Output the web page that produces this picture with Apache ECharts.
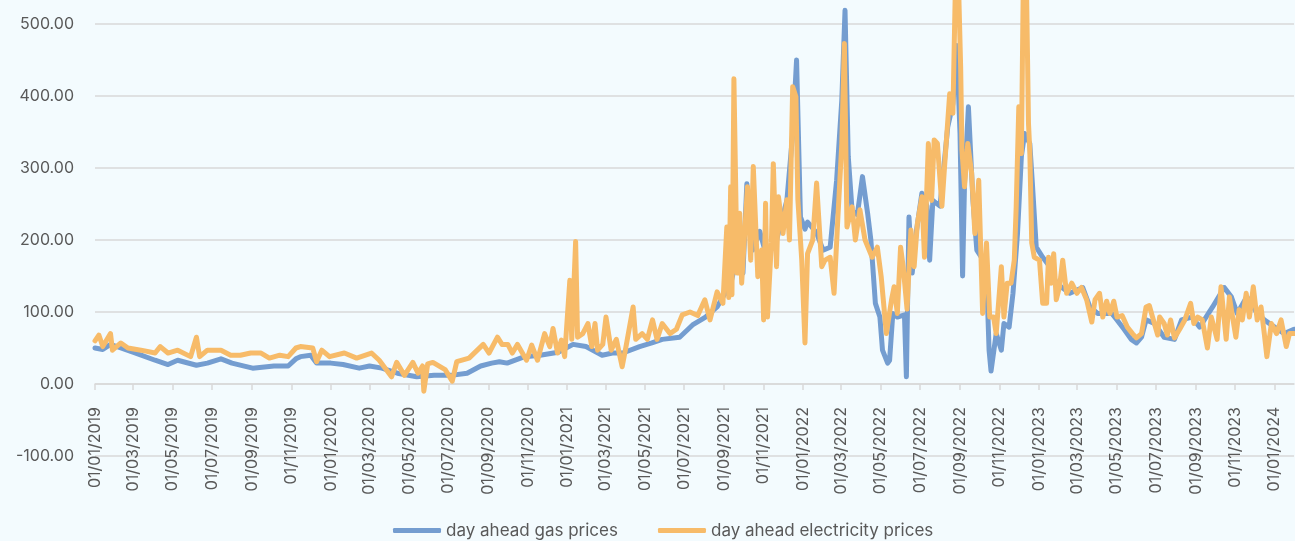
<!DOCTYPE html>
<html>
<head>
<meta charset="utf-8">
<script src="https://cdn.jsdelivr.net/npm/echarts@6/dist/echarts.min.js"></script>
<style>
html,body{margin:0;padding:0;background:#f3fbfe;}
#chart{width:1295px;height:541px;}
</style>
</head>
<body>
<div id="chart"></div>
<script>
const seriesNames = ['day ahead gas prices', 'day ahead electricity prices'];
const seriesColors = ['#749dd0', '#f7bb69'];

const tickDates = ['2019-01-01','2019-03-01','2019-05-01','2019-07-01','2019-09-01','2019-11-01',
'2020-01-01','2020-03-01','2020-05-01','2020-07-01','2020-09-01','2020-11-01',
'2021-01-01','2021-03-01','2021-05-01','2021-07-01','2021-09-01','2021-11-01',
'2022-01-01','2022-03-01','2022-05-01','2022-07-01','2022-09-01','2022-11-01',
'2023-01-01','2023-03-01','2023-05-01','2023-07-01','2023-09-01','2023-11-01','2024-01-01'];

const yTicks = [-100, 0, 100, 200, 300, 400, 500];

const gasDates = ['2019-01-01','2019-01-13','2019-01-25','2019-02-10','2019-03-05','2019-04-04','2019-04-24','2019-05-09','2019-06-07','2019-06-24','2019-07-15','2019-08-01','2019-09-02','2019-10-05','2019-10-27','2019-11-08','2019-11-15','2019-12-01','2019-12-10',
'2020-01-01','2020-01-20','2020-02-14','2020-03-01','2020-03-20','2020-04-13','2020-05-13','2020-06-09','2020-07-05','2020-07-30','2020-08-20','2020-09-06','2020-09-18','2020-09-30','2020-10-27','2020-11-20','2020-12-18',
'2021-01-10','2021-01-30','2021-02-24','2021-03-12','2021-03-28','2021-04-23','2021-05-12','2021-05-28','2021-06-24','2021-07-14','2021-07-27','2021-08-03','2021-08-21','2021-08-30','2021-09-10','2021-09-21','2021-09-30','2021-10-06','2021-10-15','2021-10-26','2021-11-06','2021-11-21','2021-12-07','2021-12-16','2021-12-22','2021-12-28',
'2022-01-04','2022-01-08','2022-01-22','2022-02-01','2022-02-12','2022-02-22','2022-03-02','2022-03-07','2022-03-12','2022-03-18','2022-03-26','2022-04-03','2022-04-11','2022-04-16','2022-04-19','2022-04-23','2022-04-30','2022-05-04','2022-05-12','2022-05-15','2022-05-20','2022-05-27','2022-06-07','2022-06-10','2022-06-14','2022-06-19','2022-06-25','2022-07-04','2022-07-12','2022-07-16','2022-07-21','2022-08-01','2022-08-05','2022-08-13','2022-08-21','2022-08-27','2022-09-01','2022-09-05','2022-09-08','2022-09-14','2022-09-21','2022-09-27','2022-10-04','2022-10-12','2022-10-16','2022-10-19','2022-10-27','2022-11-04','2022-11-08','2022-11-16','2022-11-22','2022-11-29','2022-12-05','2022-12-10','2022-12-18','2022-12-22','2022-12-28',
'2023-01-07','2023-01-18','2023-01-28','2023-02-18','2023-03-10','2023-03-21','2023-04-02','2023-04-24','2023-05-02','2023-05-13','2023-05-24','2023-06-01','2023-06-09','2023-06-16','2023-06-29','2023-07-14','2023-07-30','2023-08-10','2023-08-26','2023-09-07','2023-09-27','2023-10-15','2023-10-26','2023-11-04','2023-11-19','2023-12-05','2023-12-16',
'2024-01-01','2024-01-16','2024-01-31'];
const gasValues = [50,48,55,50,43,33,27,33,26,29,35,29,22,25,25,35,38,40,29,
29,27,22,25,22,15,10,12,12,15,25,29,31,29,38,40,44,
55,52,40,43,43,52,57,62,65,82,89,93,107,121,135,177,154,278,186,212,176,200,255,348,450,232,
215,225,210,186,190,283,394,519,316,240,235,288,237,200,163,112,93,47,29,33,98,93,96,10,232,154,209,265,247,172,255,247,283,357,389,470,348,150,279,385,255,186,176,154,47,18,70,47,84,79,126,209,316,348,334,279,190,
176,163,140,126,134,107,98,98,89,76,62,57,65,89,84,65,62,89,93,79,107,134,121,98,121,98,89,
79,70,76];

const elecDates = ['2019-01-01','2019-01-07','2019-01-13','2019-01-25','2019-01-28','2019-02-10','2019-02-21','2019-03-13','2019-04-04','2019-04-12','2019-04-24','2019-05-09','2019-05-29','2019-06-07','2019-06-12','2019-06-24','2019-07-15','2019-07-30','2019-08-14','2019-08-30','2019-09-15','2019-09-28','2019-10-14','2019-10-27','2019-11-08','2019-11-15','2019-12-04','2019-12-10','2019-12-18','2019-12-30',
'2020-01-22','2020-02-10','2020-03-04','2020-03-16','2020-04-04','2020-04-12','2020-04-24','2020-05-07','2020-05-15','2020-05-22','2020-05-24','2020-05-30','2020-06-07','2020-06-26','2020-07-07','2020-07-14','2020-08-02','2020-08-24','2020-09-02','2020-09-15','2020-09-22','2020-10-01','2020-10-08','2020-10-16','2020-10-30','2020-11-07','2020-11-16','2020-11-27','2020-12-05','2020-12-10','2020-12-17','2020-12-23','2020-12-28',
'2021-01-05','2021-01-08','2021-01-14','2021-01-17','2021-01-25','2021-02-02','2021-02-08','2021-02-13','2021-02-17','2021-02-25','2021-03-02','2021-03-10','2021-03-18','2021-03-27','2021-04-02','2021-04-13','2021-04-17','2021-04-27','2021-05-05','2021-05-13','2021-05-20','2021-05-28','2021-06-09','2021-06-19','2021-06-28','2021-07-10','2021-07-22','2021-08-02','2021-08-10','2021-08-21','2021-08-30','2021-09-05','2021-09-08','2021-09-11','2021-09-13','2021-09-16','2021-09-21','2021-09-25','2021-09-28','2021-10-07','2021-10-12','2021-10-16','2021-10-23','2021-10-29','2021-11-01','2021-11-04','2021-11-07','2021-11-13','2021-11-16','2021-11-21','2021-11-24','2021-12-01','2021-12-07','2021-12-11','2021-12-16','2021-12-21','2021-12-24','2021-12-30',
'2022-01-04','2022-01-08','2022-01-16','2022-01-22','2022-01-30','2022-02-04','2022-02-12','2022-02-18','2022-02-24','2022-03-02','2022-03-06','2022-03-10','2022-03-18','2022-03-23','2022-03-30','2022-04-07','2022-04-18','2022-04-26','2022-05-02','2022-05-10','2022-05-18','2022-05-22','2022-05-27','2022-06-01','2022-06-05','2022-06-11','2022-06-17','2022-06-22','2022-06-27','2022-07-04','2022-07-08','2022-07-14','2022-07-19','2022-07-23','2022-07-28','2022-08-04','2022-08-08','2022-08-16','2022-08-21','2022-08-25','2022-08-30','2022-09-02','2022-09-04','2022-09-08','2022-09-13','2022-09-19','2022-09-24','2022-09-30','2022-10-06','2022-10-12','2022-10-17','2022-10-23','2022-10-27','2022-11-04','2022-11-08','2022-11-13','2022-11-19','2022-11-24','2022-11-27','2022-12-01','2022-12-05','2022-12-08','2022-12-13','2022-12-16','2022-12-18','2022-12-21','2022-12-25',
'2023-01-02','2023-01-07','2023-01-13','2023-01-16','2023-01-20','2023-01-24','2023-01-28','2023-02-02','2023-02-07','2023-02-13','2023-02-21','2023-03-01','2023-03-08','2023-03-16','2023-03-24','2023-03-29','2023-04-05','2023-04-10','2023-04-16','2023-04-21','2023-04-27','2023-05-02','2023-05-10','2023-05-18','2023-05-26','2023-06-01','2023-06-09','2023-06-16','2023-06-21','2023-06-26','2023-07-04','2023-07-07','2023-07-14','2023-07-19','2023-07-24','2023-07-30','2023-08-07','2023-08-15','2023-08-24','2023-08-29','2023-09-04','2023-09-11','2023-09-19','2023-09-25','2023-09-30','2023-10-04','2023-10-10','2023-10-18','2023-10-23','2023-10-27','2023-11-02','2023-11-07','2023-11-12','2023-11-18','2023-11-23','2023-11-29','2023-12-05','2023-12-11','2023-12-16','2023-12-20','2023-12-27',
'2024-01-04','2024-01-11','2024-01-19','2024-01-24','2024-01-31'];
const elecValues = [60,68,52,70,47,57,50,47,43,52,43,47,38,65,38,47,47,40,40,43,43,36,40,38,50,52,50,31,47,38,
43,36,43,33,10,30,12,30,15,25,-10,28,30,20,4,31,36,55,43,65,55,55,43,55,33,54,33,70,52,77,43,61,38,
144,62,198,65,70,84,52,84,47,55,93,47,62,24,52,107,62,70,62,89,62,84,70,76,96,100,95,117,89,128,112,218,120,274,124,424,154,237,140,274,172,302,149,186,89,251,93,196,306,163,260,209,256,200,413,399,256,172,
57,181,200,279,163,172,176,126,232,334,473,218,246,200,242,200,176,190,149,70,117,135,98,190,163,104,214,163,223,260,176,334,255,339,334,247,301,403,376,560,545,440,325,274,334,293,209,283,98,196,93,93,70,163,93,140,140,172,247,385,320,560,545,362,325,196,176,
172,112,112,176,140,181,117,135,172,126,140,126,134,117,86,117,126,93,115,98,115,93,95,79,70,64,70,107,109,93,68,93,84,68,89,64,76,89,112,84,93,89,50,93,76,62,135,62,121,98,65,103,89,126,93,135,89,107,70,38,84,
70,89,52,70,70];

const START = Date.UTC(2019, 0, 1);
function dayIndex(s) {
  const p = s.split('-').map(Number);
  return Math.round((Date.UTC(p[0], p[1] - 1, p[2]) - START) / 86400000);
}
function pad(n) { return (n < 10 ? '0' : '') + n; }
function dayLabel(idx) {
  const d = new Date(START + Math.round(idx) * 86400000);
  return pad(d.getUTCDate()) + '/' + pad(d.getUTCMonth() + 1) + '/' + d.getUTCFullYear();
}
function zip(d, v) { return d.map((x, i) => [dayIndex(x), v[i]]); }
const tickIdx = tickDates.map(dayIndex);

const FONT = 'Inter, "Open Sans", sans-serif';
const chart = echarts.init(document.getElementById('chart'), null, {renderer: 'canvas'});
chart.setOption({
  backgroundColor: '#f3fbfe',
  animation: false,
  textStyle: {fontFamily: FONT},
  grid: {left: 95, right: 1, top: 0, bottom: 85, containLabel: false, outerBoundsMode: 'none'},
  legend: {
    left: 388, top: 517,
    itemWidth: 48, itemHeight: 5, itemGap: 40,
    textStyle: {color: '#595959', fontSize: 17, fontFamily: FONT},
    data: seriesNames.map((n, i) => ({name: n, icon: 'roundRect', itemStyle: {color: seriesColors[i], borderWidth: 0}}))
  },
  xAxis: {
    type: 'value',
    min: 0, max: dayIndex('2024-01-31'),
    axisLine: {onZero: true, lineStyle: {color: '#d9d9d9', width: 1.5}},
    axisTick: {show: true, customValues: tickIdx, length: 6, lineStyle: {color: '#d9d9d9', width: 1.5}},
    axisLabel: {
      customValues: tickIdx,
      rotate: 90, margin: -49,
      color: '#595959', fontSize: 16, fontFamily: FONT,
      formatter: function (val) { return dayLabel(val); }
    },
    splitLine: {show: false}
  },
  yAxis: {
    type: 'value',
    min: -100, max: 533.33, interval: 100,
    axisLine: {show: false},
    axisTick: {show: false},
    axisLabel: {
      color: '#595959', fontSize: 16, fontFamily: FONT, margin: 21,
      showMaxLabel: false,
      formatter: function (v) { return yTicks.indexOf(v) >= 0 ? v.toFixed(2) : ''; }
    },
    splitLine: {show: true, showMaxLine: false, lineStyle: {color: '#d9d9d9', width: 1.5}}
  },
  series: [
    {
      name: seriesNames[0], type: 'line', showSymbol: false, symbol: 'none',
      data: zip(gasDates, gasValues),
      lineStyle: {color: seriesColors[0], width: 5, cap: 'round', join: 'round'},
      itemStyle: {color: seriesColors[0]},
      z: 2
    },
    {
      name: seriesNames[1], type: 'line', showSymbol: false, symbol: 'none',
      data: zip(elecDates, elecValues),
      lineStyle: {color: seriesColors[1], width: 5, cap: 'round', join: 'round'},
      itemStyle: {color: seriesColors[1]},
      z: 3
    }
  ]
});
</script>
</body>
</html>
